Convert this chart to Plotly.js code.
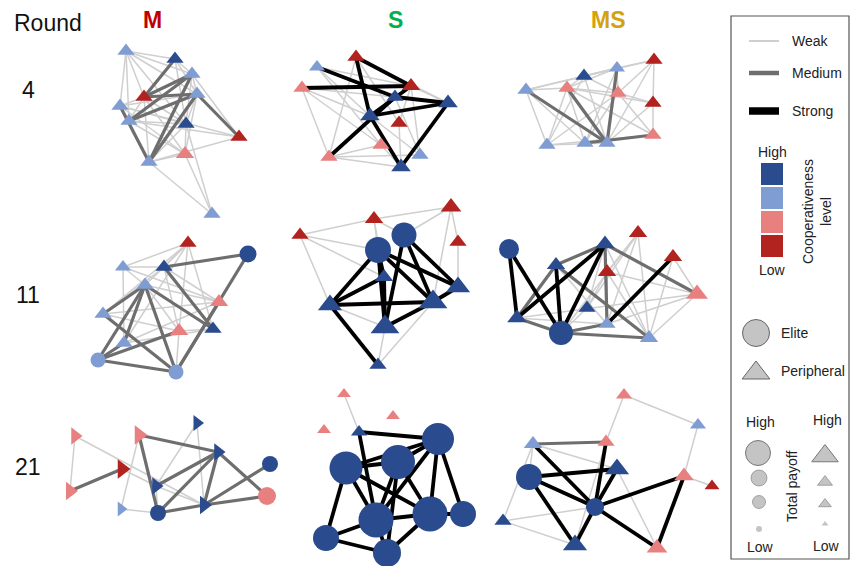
<!DOCTYPE html>
<html><head><meta charset="utf-8">
<script src="https://cdn.plot.ly/plotly-3.0.1.min.js"></script>
<style>html,body{margin:0;padding:0;background:#fff}#chart{width:850px;height:566px}</style>
</head><body><div id="chart"></div>
<script>
// ---------- DATA (node positions, cooperativeness level 0=low..3=high, type e=elite p=peripheral, payoff size) ----------
// Panel M, round 4
const m4_x = [126,175,192,144,197,120,129,186,239,185,149,212];
const m4_y = [51,59,74,97,94,106,121,124,137,154,162,214];
const m4_lvl = [2,3,2,0,2,2,2,3,0,1,2,2];
const m4_type = "pppppppppppp";
const m4_pay = [15,15,15,15,15,15,15,15,15,16,15,15];
const m4_weak = ["AB","AC","AE","AF","AD","AH","BC","BE","BH","CE","CH","CI","DF","DG","DH","DJ","DK","EF","EH","EJ","FG","FH","FJ","GH","GI","GJ","HJ","HK","JK","IK","KL","JL","HL","AG","FI"];
const m4_medium = ["BD","CD","DE","CG","EG","CK","EK","FK","EI"];
const m4_strong = [];
// Panel S, round 4
const s4_x = [356,317,302,411,395,448,370,399,381,329,420,401];
const s4_y = [57,67,88,86,97,103,116,123,145,157,155,167];
const s4_lvl = [0,2,1,0,3,3,3,0,1,1,2,3];
const s4_type = "pppppppppppp";
const s4_pay = [15,14,15,16,15,17,17,15,15,15,15,17];
const s4_weak = ["BD","CJ","CI","CE","BI","AJ","AH","AF","JK","JL","JI","DK","DH","GK","HL","EK","IL","CG","BG","DE","DF"];
const s4_medium = [];
const s4_strong = ["AD","CD","BE","EF","EJ","DG","GF","AG","GL","FL"];
// Panel MS, round 4
const ms4_x = [654,584,617,526,567,618,653,653,547,585,607];
const ms4_y = [60,76,68,90,88,93,103,135,145,143,143];
const ms4_lvl = [0,3,2,2,1,1,0,1,2,2,2];
const ms4_type = "ppppppppppp";
const ms4_pay = [15,15,14,15,15,15,15,15,15,15,15];
const ms4_weak = ["DC","DA","DE","DI","DJ","EF","EC","EJ","EI","EG","EH","CA","CF","CB","CJ","BF","BI","FG","FH","FI","FJ","AG","GH","GK","AF","IK","BK","AK","HI","EB"];
const ms4_medium = ["DK","EK","CK","JH"];
const ms4_strong = [];
// Panel M, round 11
const m11_x = [188,248,123,164,145,219,103,179,213,124,98,176];
const m11_y = [243,254,267,267,285,302,314,331,329,343,360,372];
const m11_lvl = [0,3,2,3,2,1,2,1,3,2,2,2];
const m11_type = "peppppppppee";
const m11_pay = [15,17,14,15,15,16,15,16,15,15,15,15];
const m11_weak = ["AC","AE","AG","AJ","AI","AD","CD","CF","CJ","DF","DH","DG","EF","EH","GF","GH","JF","JI","HI","HL","CE","DE","AH"];
const m11_medium = ["DB","BL","FL","DI","EG","EK","EL","EJ","GL","KL","KH","KJ","EI"];
const m11_strong = [];
// Panel S, round 11
const s11_x = [451,374,300,458,404,378,384,458,330,433,385,378];
const s11_y = [207,219,235,242,235,250,277,287,305,302,327,365];
const s11_lvl = [0,0,0,0,3,3,3,3,3,3,3,3];
const s11_type = "ppppeepppppp";
const s11_pay = [18,16,15,15,25,26,16,21,21,25,25,15];
const s11_weak = ["CB","BA","CF","CI","BE","BG","AE","AD","AJ","DH","IK","KL","LJ","CG","BF"];
const s11_medium = [];
const s11_strong = ["FI","FG","FK","FJ","FH","EK","EJ","EH","IJ","IG","KJ","JH","IL","GK"];
// Panel MS, round 11
const ms11_x = [509,638,605,673,556,607,697,587,517,607,561,649];
const ms11_y = [249,233,244,257,265,272,294,308,318,324,333,338];
const ms11_lvl = [3,0,3,0,3,0,1,3,3,2,3,2];
const ms11_type = "epppppppppep";
const ms11_pay = [20,16,17,16,16,16,19,15,17,15,24,16];
const ms11_weak = ["BL","BJ","BF","BH","DG","DL","FG","FL","GL","GJ","IJ","IG","BK","FJ","HK","CH","DJ","FH","EJ","CL"];
const ms11_medium = ["EC","CG","CJ","EL","KL","KJ","IK","IE"];
const ms11_strong = ["AI","AK","EK","IC","KC","JD"];
// Panel M, round 21
const m21_x = [75,139,197,122,70,218,156,270,267,121,158,204];
const m21_y = [436,435,423,469,491,452,486,464,496,509,513,505];
const m21_lvl = [1,1,3,0,1,3,3,3,1,2,3,3];
const m21_type = "pppppppeepep";
const m21_pay = [15,17,14,17,16,15,15,16,18,13,16,16];
const m21_weak = ["AE","AL","BJ","CG","CL","JK","GK","GL","DG"];
const m21_medium = ["ED","BF","BK","KF","FL","FI","KL","LI","LH","GF"];
const m21_strong = [];
// Panel S, round 21
const s21_x = [344,393,324,359,438,346,398,376,430,463,326,387];
const s21_y = [394,416,430,432,439,468,462,520,514,514,538,553];
const s21_lvl = [1,1,1,3,3,3,3,3,3,3,3,3];
const s21_type = "ppppeeeeeeee";
const s21_pay = [12,12,12,14,32,33,34,35,35,26,26,28];
const s21_weak = ["AD"];
const s21_medium = [];
const s21_strong = ["DE","DH","EG","EF","EI","EJ","EH","FG","FK","FH","FI","GH","GI","GL","HI","HK","HL","KL","IJ","IL"];
// Panel MS, round 21
const ms21_x = [624,698,533,606,617,529,684,712,595,503,575,657];
const ms21_y = [395,425,444,442,469,477,476,486,507,521,545,548];
const ms21_lvl = [1,2,2,1,3,3,1,0,3,3,3,1];
const ms21_type = "pppppeppeppp";
const ms21_pay = [14,14,16,15,21,26,17,13,18,15,21,18];
const ms21_weak = ["AD","AB","BG","GH","CJ","JI","JK","CE","EL","DK","CF"];
const ms21_medium = ["CD"];
const ms21_strong = ["CI","FE","FI","FK","DI","EI","IG","IL","IK","GL"];

// Labels
const colHeaders = ["M","S","MS"];
const rowLabels = ["4","11","21"];
const tieLabels = ["Weak","Medium","Strong"];
const roleLabels = ["Elite","Peripheral"];

// ---------- STYLE ----------
const LEVEL_COLORS = ['#b2221f','#e88080','#7f9dd3','#2a4b8d'];
const HEADER_COLORS = ['#c00000','#00b050','#d4a20f'];
const FONT = 'Liberation Sans, Arial, sans-serif';

const panels = [
  {x:m4_x,y:m4_y,lvl:m4_lvl,type:m4_type,pay:m4_pay,w:m4_weak,m:m4_medium,s:m4_strong,tri:'triangle-up'},
  {x:s4_x,y:s4_y,lvl:s4_lvl,type:s4_type,pay:s4_pay,w:s4_weak,m:s4_medium,s:s4_strong,tri:'triangle-up'},
  {x:ms4_x,y:ms4_y,lvl:ms4_lvl,type:ms4_type,pay:ms4_pay,w:ms4_weak,m:ms4_medium,s:ms4_strong,tri:'triangle-up'},
  {x:m11_x,y:m11_y,lvl:m11_lvl,type:m11_type,pay:m11_pay,w:m11_weak,m:m11_medium,s:m11_strong,tri:'triangle-up'},
  {x:s11_x,y:s11_y,lvl:s11_lvl,type:s11_type,pay:s11_pay,w:s11_weak,m:s11_medium,s:s11_strong,tri:'triangle-up'},
  {x:ms11_x,y:ms11_y,lvl:ms11_lvl,type:ms11_type,pay:ms11_pay,w:ms11_weak,m:ms11_medium,s:ms11_strong,tri:'triangle-up'},
  {x:m21_x,y:m21_y,lvl:m21_lvl,type:m21_type,pay:m21_pay,w:m21_weak,m:m21_medium,s:m21_strong,tri:'triangle-right'},
  {x:s21_x,y:s21_y,lvl:s21_lvl,type:s21_type,pay:s21_pay,w:s21_weak,m:s21_medium,s:s21_strong,tri:'triangle-up'},
  {x:ms21_x,y:ms21_y,lvl:ms21_lvl,type:ms21_type,pay:ms21_pay,w:ms21_weak,m:ms21_medium,s:ms21_strong,tri:'triangle-up'}
];

function edgeTrace(P, pairs, color, width){
  const ex=[], ey=[];
  pairs.forEach(p=>{
    const i=p.charCodeAt(0)-65, j=p.charCodeAt(1)-65;
    ex.push(P.x[i],P.x[j],null); ey.push(P.y[i],P.y[j],null);
  });
  return {type:'scatter',mode:'lines',x:ex,y:ey,line:{color:color,width:width},hoverinfo:'skip',showlegend:false};
}

const traces=[];
panels.forEach(P=>{ traces.push(edgeTrace(P,P.w,'#cfcfcf',1.5)); });
panels.forEach(P=>{ traces.push(edgeTrace(P,P.m,'#6e6e6e',3.2)); });
panels.forEach(P=>{ traces.push(edgeTrace(P,P.s,'#000000',3.8)); });
panels.forEach(P=>{
  traces.push({type:'scatter',mode:'markers',x:P.x,y:P.y,hoverinfo:'skip',showlegend:false,
    marker:{
      color:P.lvl.map(l=>LEVEL_COLORS[l]),
      symbol:P.type.split('').map(t=>t==='e'?'circle':P.tri),
      size:P.pay,
      opacity:1,
      line:{width:0}
    }});
});

// ---------- LEGEND ----------
const shapes=[];
shapes.push({type:'rect',xref:'x',yref:'y',x0:731,x1:849,y0:16,y1:559,line:{color:'#555',width:1.2},fillcolor:'rgba(0,0,0,0)',layer:'below'});
const tieY=[41,73,111], tieW=[2,4.5,7.5], tieC=['#cfcfcf','#6e6e6e','#000000'];
const annotations=[];
tieLabels.forEach((t,i)=>{
  shapes.push({type:'line',xref:'x',yref:'y',x0:749,x1:779,y0:tieY[i],y1:tieY[i],line:{color:tieC[i],width:tieW[i]}});
  annotations.push({x:790,y:tieY[i],xref:'x',yref:'y',text:t,showarrow:false,xanchor:'left',yanchor:'middle',font:{family:FONT,size:14,color:'#222'}});
});
// colour scale boxes (High at top)
const boxTop=[163,187,211,235];
[3,2,1,0].forEach((l,k)=>{
  shapes.push({type:'rect',xref:'x',yref:'y',x0:761,x1:783,y0:boxTop[k],y1:boxTop[k]+22,fillcolor:LEVEL_COLORS[l],line:{width:0}});
});
annotations.push({x:772,y:152,text:'High',showarrow:false,font:{family:FONT,size:14,color:'#222'}});
annotations.push({x:772,y:270,text:'Low',showarrow:false,font:{family:FONT,size:14,color:'#222'}});
annotations.push({x:817,y:212,text:'Cooperativeness<br>level',textangle:-90,showarrow:false,font:{family:FONT,size:14,color:'#222'}});
// role symbols
traces.push({type:'scatter',mode:'markers',x:[756,756],y:[333,373],hoverinfo:'skip',showlegend:false,
  marker:{symbol:['circle','triangle-up'],size:[27,24],color:'#c4c4c4',opacity:1,line:{color:'#666',width:1}}});
annotations.push({x:779,y:333,text:roleLabels[0],showarrow:false,xanchor:'left',font:{family:FONT,size:14,color:'#222'}});
annotations.push({x:779,y:371,text:roleLabels[1],showarrow:false,xanchor:'left',font:{family:FONT,size:14,color:'#222'}});
// payoff size scale
traces.push({type:'scatter',mode:'markers',x:[758,759,759,759],y:[453,478,502,529],hoverinfo:'skip',showlegend:false,
  marker:{symbol:'circle',size:[25,16,13,6],color:'#c4c4c4',opacity:1,line:{color:'#777',width:[1,0.6,0.6,0]}}});
traces.push({type:'scatter',mode:'markers',x:[825,825,825,825],y:[456,482,504,524],hoverinfo:'skip',showlegend:false,
  marker:{symbol:'triangle-up',size:[23,13,11,6],color:'#c4c4c4',opacity:1,line:{color:'#777',width:[1,0.6,0.6,0]}}});
annotations.push({x:760,y:422,text:'High',showarrow:false,font:{family:FONT,size:14,color:'#222'}});
annotations.push({x:827,y:420,text:'High',showarrow:false,font:{family:FONT,size:14,color:'#222'}});
annotations.push({x:760,y:547,text:'Low',showarrow:false,font:{family:FONT,size:14,color:'#222'}});
annotations.push({x:826,y:546,text:'Low',showarrow:false,font:{family:FONT,size:14,color:'#222'}});
annotations.push({x:792,y:487,text:'Total payoff',textangle:-90,showarrow:false,font:{family:FONT,size:14,color:'#222'}});

// headers and row labels
annotations.push({x:48,y:23,text:'Round',showarrow:false,font:{family:FONT,size:23,color:'#111'}});
const hdrX=[152,395,608];
colHeaders.forEach((h,i)=>annotations.push({x:hdrX[i],y:20,text:'<b>'+h+'</b>',showarrow:false,font:{family:FONT,size:23,color:HEADER_COLORS[i]}}));
const rowY=[90,295,467];
rowLabels.forEach((r,i)=>annotations.push({x:28,y:rowY[i],text:r,showarrow:false,font:{family:FONT,size:23,color:'#111'}}));

const layout={
  width:850,height:566,margin:{l:0,r:0,t:0,b:0},
  paper_bgcolor:'#fff',plot_bgcolor:'#fff',
  xaxis:{range:[0,850],visible:false,fixedrange:true},
  yaxis:{range:[566,0],visible:false,fixedrange:true},
  shapes:shapes,annotations:annotations,showlegend:false
};
Plotly.newPlot('chart',traces,layout,{staticPlot:true,displayModeBar:false});
</script></body></html>
